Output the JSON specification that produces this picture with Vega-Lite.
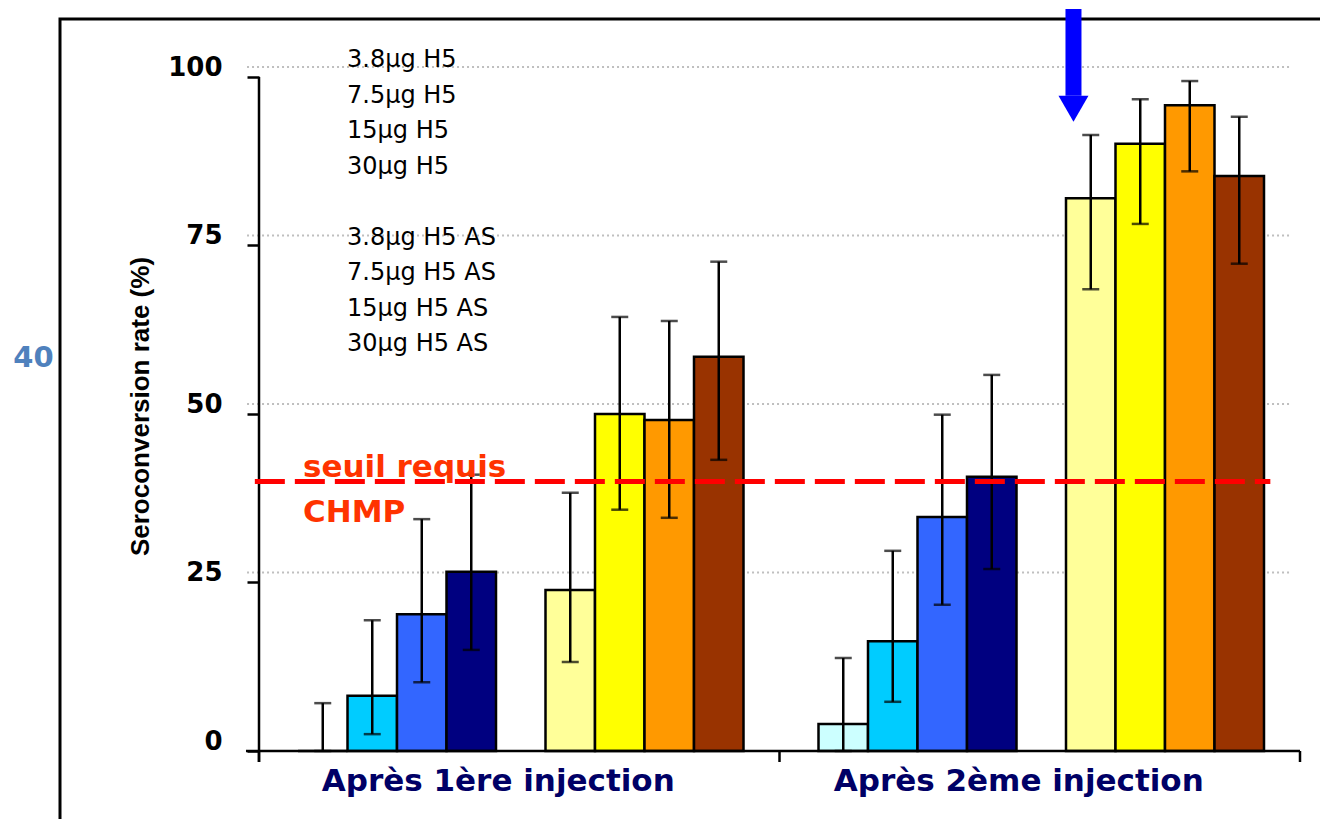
{
  "$schema": "https://vega.github.io/schema/vega-lite/v6.json",
  "width": 1263,
  "height": 803,
  "autosize": {"type": "none"},
  "padding": {"left": 60, "top": 19, "right": -3, "bottom": -3},
  "background": "white",
  "config": {
    "view": {"stroke": "black", "strokeWidth": 3},
    "font": "DejaVu Sans"
  },
  "datasets": {
    "bars": [
      {"phase": "Après 1ère injection", "series": "3.8µg H5", "value": 0, "lo": 0, "hi": 7.1},
      {"phase": "Après 1ère injection", "series": "7.5µg H5", "value": 8.2, "lo": 2.5, "hi": 19.4},
      {"phase": "Après 1ère injection", "series": "15µg H5", "value": 20.3, "lo": 10.2, "hi": 34.4},
      {"phase": "Après 1ère injection", "series": "30µg H5", "value": 26.6, "lo": 15.0, "hi": 41.0},
      {"phase": "Après 1ère injection", "series": "3.8µg H5 AS", "value": 23.9, "lo": 13.2, "hi": 38.3},
      {"phase": "Après 1ère injection", "series": "7.5µg H5 AS", "value": 50.0, "lo": 35.8, "hi": 64.4},
      {"phase": "Après 1ère injection", "series": "15µg H5 AS", "value": 49.1, "lo": 34.6, "hi": 63.8},
      {"phase": "Après 1ère injection", "series": "30µg H5 AS", "value": 58.5, "lo": 43.2, "hi": 72.6},
      {"phase": "Après 2ème injection", "series": "3.8µg H5", "value": 4.0, "lo": 0, "hi": 13.8},
      {"phase": "Après 2ème injection", "series": "7.5µg H5", "value": 16.3, "lo": 7.3, "hi": 29.7},
      {"phase": "Après 2ème injection", "series": "15µg H5", "value": 34.7, "lo": 21.7, "hi": 49.9},
      {"phase": "Après 2ème injection", "series": "30µg H5", "value": 40.7, "lo": 27.0, "hi": 55.8},
      {"phase": "Après 2ème injection", "series": "3.8µg H5 AS", "value": 82.0, "lo": 68.5, "hi": 91.4},
      {"phase": "Après 2ème injection", "series": "7.5µg H5 AS", "value": 90.1, "lo": 78.2, "hi": 96.7},
      {"phase": "Après 2ème injection", "series": "15µg H5 AS", "value": 95.8, "lo": 86.0, "hi": 99.4},
      {"phase": "Après 2ème injection", "series": "30µg H5 AS", "value": 85.3, "lo": 72.3, "hi": 94.1}
    ],
    "grid": [{"v": 100}, {"v": 75}, {"v": 50}, {"v": 25}],
    "xticks": [{"phase": "Après 1ère injection"}, {"phase": "Après 2ème injection"}]
  },
  "layer": [
    {
      "data": {"name": "grid"},
      "mark": {"type": "rule", "color": "#BFBFBF", "strokeWidth": 2, "strokeDash": [2, 3], "yOffset": -10},
      "encoding": {
        "x": {"datum": "Après 1ère injection", "type": "nominal", "bandPosition": -0.023, "title": null},
        "x2": {"datum": "Après 2ème injection", "bandPosition": 0.983},
        "y": {"field": "v", "type": "quantitative", "title": "Seroconversion rate (%)"}
      }
    },
    {
      "data": {"name": "bars"},
      "mark": {"type": "bar", "stroke": "black", "strokeWidth": 2.5},
      "encoding": {
        "x": {
          "field": "phase", "type": "nominal", "title": null,
          "scale": {"domain": ["Après 1ère injection", "Après 2ème injection"], "paddingInner": 0, "paddingOuter": 0.21326, "align": 0.8964},
          "axis": {
            "orient": "bottom", "offset": -71, "domain": false,
            "ticks": false, "labelOffset": -21, "labelAlign": "center", "labelBaseline": "top",
            "labelFont": "DejaVu Sans", "labelFontWeight": "bold", "labelFontSize": 31,
            "labelColor": "#000066", "labelPadding": 15, "labelAngle": 0, "labelLimit": 0, "grid": false
          }
        },
        "xOffset": {
          "field": "series", "type": "nominal",
          "scale": {"domain": ["3.8µg H5", "7.5µg H5", "15µg H5", "30µg H5", "gap", "3.8µg H5 AS", "7.5µg H5 AS", "15µg H5 AS", "30µg H5 AS"], "paddingInner": 0, "paddingOuter": 0.7576, "align": 0.52}
        },
        "y": {
          "field": "value", "type": "quantitative", "title": "Seroconversion rate (%)",
          "scale": {"domain": [-10.534, 108.605], "nice": false, "zero": false},
          "axis": {
            "orient": "left", "offset": -199,
            "values": [0, 25, 50, 75, 100], "grid": false, "domain": false,
            "ticks": true, "tickSize": 12, "tickWidth": 2.5, "tickColor": "black",
            "labelFont": "DejaVu Sans", "labelFontWeight": "bold", "labelFontSize": 26, "labelColor": "black",
            "labelPadding": 25, "labelOffset": -9.5, "labelOverlap": false,
            "titleFont": "Liberation Sans", "titleFontSize": 26, "titleFontWeight": "bold", "titleColor": "black",
            "titlePadding": 14, "titleY": 387
          }
        },
        "color": {
          "field": "series", "type": "nominal",
          "scale": {
            "domain": ["3.8µg H5", "7.5µg H5", "15µg H5", "30µg H5", "gap", "3.8µg H5 AS", "7.5µg H5 AS", "15µg H5 AS", "30µg H5 AS"],
            "range": ["#CCFFFF", "#00CCFF", "#3366FF", "#000080", "#FFFFFF", "#FFFF99", "#FFFF00", "#FF9900", "#993300"]
          },
          "legend": {
            "orient": "none", "legendX": 263, "legendY": 29, "title": null, "padding": 0,
            "symbolOpacity": 0, "symbolSize": 0, "symbolStrokeWidth": 0, "labelOffset": 0,
            "labelFont": "DejaVu Sans", "labelFontSize": 24, "labelColor": "black", "labelLimit": 0,
            "rowPadding": 11.5, "labelExpr": "datum.label == 'gap' ? '' : datum.label"
          }
        }
      }
    },
    {
      "data": {"name": "bars"},
      "mark": {"type": "rule", "color": "black", "strokeWidth": 2.5},
      "encoding": {
        "x": {"field": "phase", "type": "nominal", "title": null},
        "xOffset": {"field": "series", "type": "nominal"},
        "y": {"field": "lo", "type": "quantitative", "title": "Seroconversion rate (%)"},
        "y2": {"field": "hi"}
      }
    },
    {
      "data": {"name": "bars"},
      "mark": {"type": "tick", "color": "black", "size": 17, "thickness": 2.5},
      "encoding": {
        "x": {"field": "phase", "type": "nominal", "title": null},
        "xOffset": {"field": "series", "type": "nominal"},
        "y": {"field": "hi", "type": "quantitative", "title": "Seroconversion rate (%)"}
      }
    },
    {
      "data": {"name": "bars"},
      "mark": {"type": "tick", "color": "black", "size": 17, "thickness": 2.5},
      "encoding": {
        "x": {"field": "phase", "type": "nominal", "title": null},
        "xOffset": {"field": "series", "type": "nominal"},
        "y": {"field": "lo", "type": "quantitative", "title": "Seroconversion rate (%)"}
      }
    },
    {
      "data": {"values": [{}]},
      "mark": {"type": "rule", "color": "black", "strokeWidth": 2.5},
      "encoding": {
        "x": {"datum": "Après 1ère injection", "type": "nominal", "bandPosition": 0, "title": null},
        "y": {"datum": -1.63, "type": "quantitative", "title": "Seroconversion rate (%)"},
        "y2": {"datum": 100}
      }
    },
    {
      "data": {"values": [{}]},
      "mark": {"type": "rule", "color": "black", "strokeWidth": 2.5},
      "encoding": {
        "x": {"datum": "Après 1ère injection", "type": "nominal", "bandPosition": -0.025, "title": null},
        "x2": {"datum": "Après 2ème injection", "bandPosition": 1},
        "y": {"datum": 0, "type": "quantitative", "title": "Seroconversion rate (%)"}
      }
    },
    {
      "data": {"name": "xticks"},
      "mark": {"type": "rule", "color": "black", "strokeWidth": 2.5},
      "encoding": {
        "x": {"field": "phase", "type": "nominal", "bandPosition": 0, "title": null},
        "y": {"datum": 0, "type": "quantitative", "title": "Seroconversion rate (%)"},
        "y2": {"datum": -1.63}
      }
    },
    {
      "data": {"values": [{}]},
      "mark": {"type": "rule", "color": "black", "strokeWidth": 2.5},
      "encoding": {
        "x": {"datum": "Après 2ème injection", "type": "nominal", "bandPosition": 1, "title": null},
        "y": {"datum": 0, "type": "quantitative", "title": "Seroconversion rate (%)"},
        "y2": {"datum": -1.63}
      }
    },
    {
      "data": {"values": [{}]},
      "mark": {"type": "rule", "color": "#FF0000", "strokeWidth": 5, "strokeDash": [30, 10]},
      "encoding": {
        "x": {"datum": "Après 1ère injection", "type": "nominal", "bandPosition": -0.008, "title": null},
        "x2": {"datum": "Après 2ème injection", "bandPosition": 0.943},
        "y": {"datum": 40, "type": "quantitative", "title": "Seroconversion rate (%)"}
      }
    },
    {
      "data": {"values": [{}]},
      "mark": {"type": "text", "text": ["seuil requis", "CHMP"], "align": "left", "baseline": "alphabetic", "lineHeight": 45, "dy": -4, "font": "DejaVu Sans", "fontWeight": "bold", "fontSize": 31, "color": "#FF3300"},
      "encoding": {
        "x": {"datum": "Après 1ère injection", "type": "nominal", "bandPosition": 0.0845, "title": null},
        "y": {"datum": 40, "type": "quantitative", "title": "Seroconversion rate (%)"}
      }
    },
    {
      "data": {"values": [{}]},
      "mark": {"type": "text", "text": "40", "align": "center", "baseline": "middle", "dx": -225.5, "dy": -123, "font": "DejaVu Sans", "fontWeight": "bold", "fontSize": 29, "color": "#4F81BD"},
      "encoding": {
        "x": {"datum": "Après 1ère injection", "type": "nominal", "bandPosition": 0, "title": null},
        "y": {"datum": 40, "type": "quantitative", "title": "Seroconversion rate (%)"}
      }
    },
    {
      "data": {"values": [{}]},
      "mark": {"type": "rule", "color": "#0000FF", "strokeWidth": 16, "strokeCap": "butt"},
      "encoding": {
        "x": {"datum": "Après 2ème injection", "type": "nominal", "bandPosition": 0.5648, "title": null},
        "y": {"datum": 110.1, "type": "quantitative", "title": "Seroconversion rate (%)"},
        "y2": {"datum": 97.2}
      }
    },
    {
      "data": {"values": [{}]},
      "mark": {"type": "point", "shape": "triangle-down", "filled": true, "color": "#0000FF", "size": 900, "opacity": 1, "strokeWidth": 0},
      "encoding": {
        "x": {"datum": "Après 2ème injection", "type": "nominal", "bandPosition": 0.5648, "title": null},
        "y": {"datum": 95.3, "type": "quantitative", "title": "Seroconversion rate (%)"}
      }
    }
  ]
}
